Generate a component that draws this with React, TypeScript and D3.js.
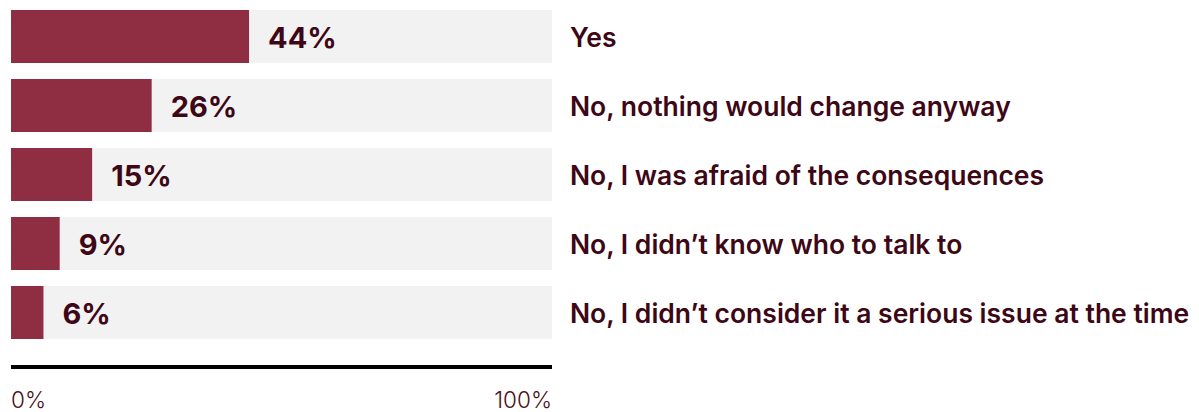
import React from "react";
import * as d3 from "d3";

const categories = [
  "Yes",
  "No, nothing would change anyway",
  "No, I was afraid of the consequences",
  "No, I didn\u2019t know who to talk to",
  "No, I didn\u2019t consider it a serious issue at the time",
];
const values = [44, 26, 15, 9, 6];
const tickLabels = ["0%", "100%"];

const W = 1199;
const H = 412;
const x0 = 11;
const x1 = 552;
const barColor = "#8f2d42";
const bgColor = "#f2f2f2";
const textColor = "#3d0716";
const font = "Inter, 'Noto Sans', sans-serif";

export default function App() {
  const x = d3.scaleLinear().domain([0, 100]).range([x0, x1]);
  const y = d3
    .scaleBand<string>()
    .domain(categories)
    .range([10, 339])
    .paddingInner(16 / 69)
    .paddingOuter(0);
  const bw = y.bandwidth();
  return (
    <svg
      width={W}
      height={H}
      style={{ position: "absolute", left: 0, top: 0, display: "block" }}
    >
      {categories.map((c, i) => {
        const yy = y(c)!;
        return (
          <g key={c}>
            <rect x={x(0)} y={yy} width={x(100) - x(0)} height={bw} fill={bgColor} />
            <rect x={x(0)} y={yy} width={x(values[i]) - x(0)} height={bw} fill={barColor} />
            <text
              x={x(values[i]) + 19}
              y={yy + bw / 2}
              dy="0.4em"
              fontFamily={font}
              fontWeight={700}
              fontSize={29}
              fill={textColor}
            >
              {values[i]}%
            </text>
            <text
              x={570}
              y={yy + bw / 2}
              dy="0.4em"
              fontFamily={font}
              fontWeight={600}
              fontSize={26.5}
              fill={textColor}
            >
              {c}
            </text>
          </g>
        );
      })}
      <line x1={x(0)} x2={x(100)} y1={367} y2={367} stroke="#000" strokeWidth={4} />
      <text x={x(0)} y={408} fontFamily={font} fontWeight={300} fontSize={22.5} fill="#4a1020">
        {tickLabels[0]}
      </text>
      <text
        x={x(100)}
        y={408}
        textAnchor="end"
        fontFamily={font}
        fontWeight={300}
        fontSize={22.5}
        fill="#4a1020"
      >
        {tickLabels[1]}
      </text>
    </svg>
  );
}
